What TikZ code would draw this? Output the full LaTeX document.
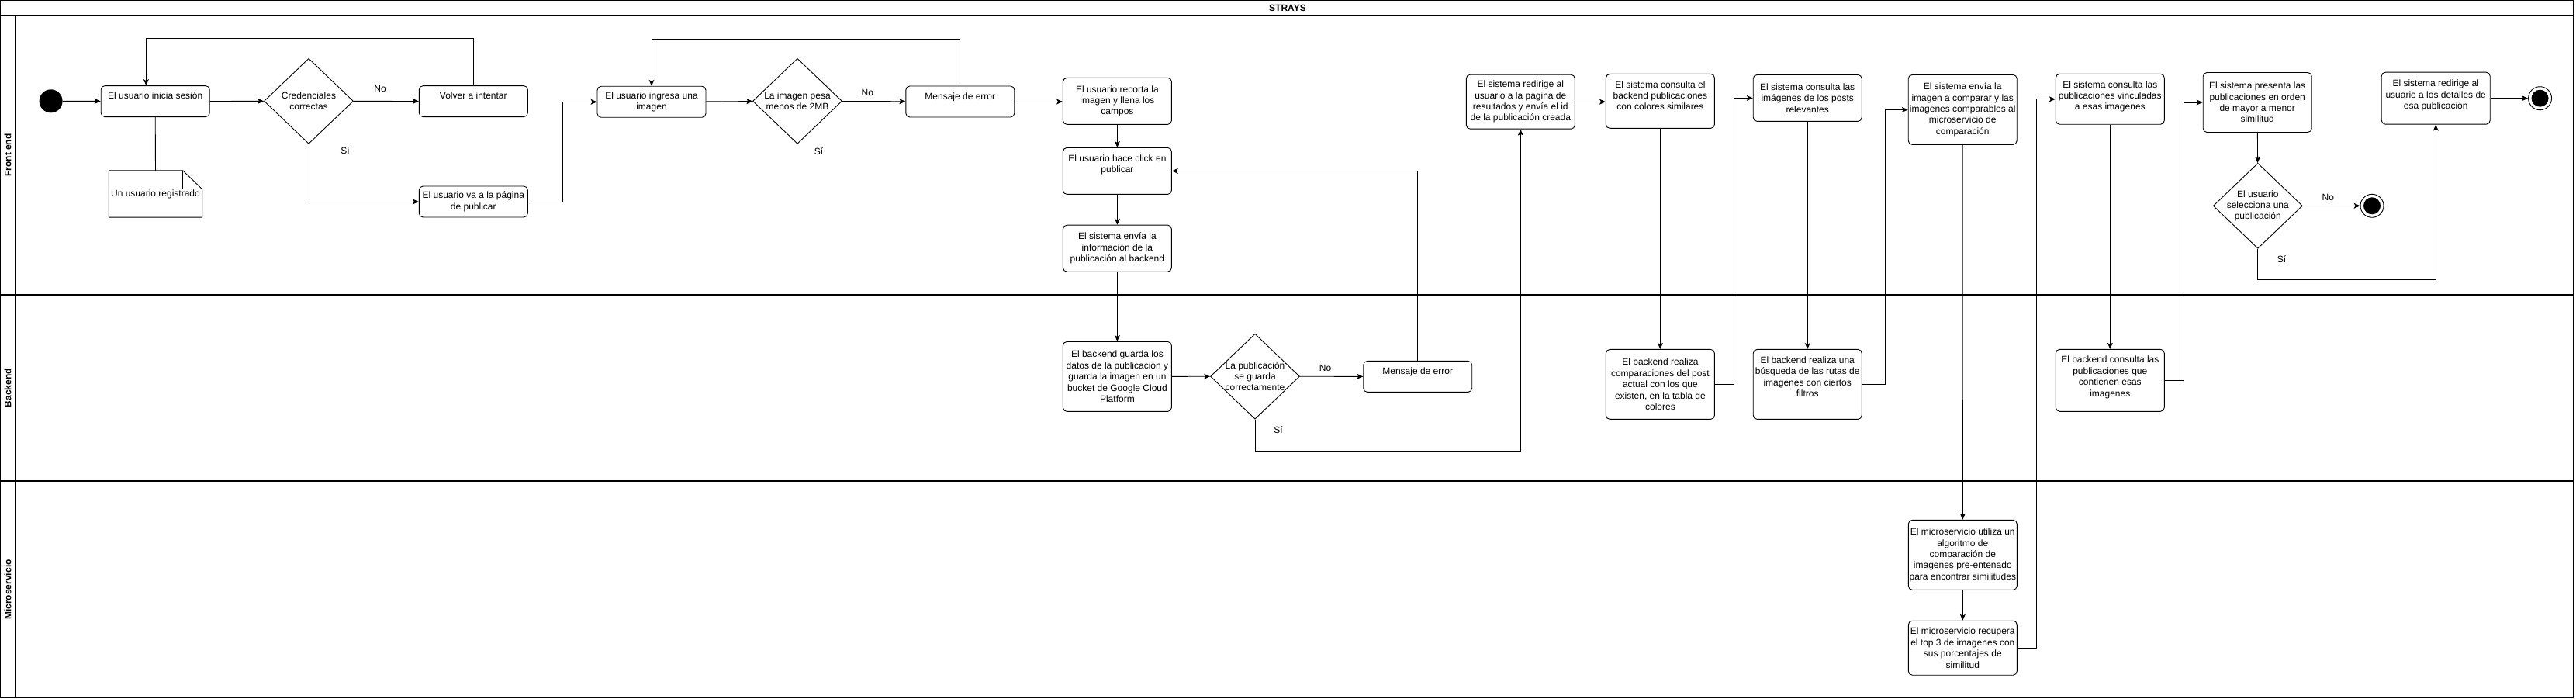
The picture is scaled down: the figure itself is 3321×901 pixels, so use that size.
\documentclass[tikz,border=0pt]{standalone}
\usepackage{fontspec}
\setmainfont{Liberation Sans}
\usetikzlibrary{arrows.meta,shapes.geometric}
\newcommand\extraline[1][0pt]{\\[#1]\mbox{}}
\begin{document}
\begin{tikzpicture}[x=1pt,y=-1pt,
  txt/.style={font=\fontsize{12}{14.4}\selectfont, align=center, inner sep=0pt, text=black},
  act/.style={txt, draw, rounded corners=5pt, line width=0.9pt, minimum width=140pt, fill=white},
  dec/.style={draw, diamond, line width=0.9pt, minimum width=115pt, minimum height=110pt, inner sep=0pt, fill=white},
  arr/.style={line width=0.9pt, -{Stealth[length=8pt,width=7pt,inset=2pt]}},
  ln/.style={line width=0.9pt},
  lane/.style={line width=1.3pt},
  lanelabel/.style={font=\bfseries\fontsize{12}{14}\selectfont, rotate=90, inner sep=0pt},
  startst/.style={circle, fill=black, minimum size=30pt, inner sep=0pt},
  endring/.style={circle, draw, fill=white, line width=0.9pt, minimum size=30pt, inner sep=0pt},
  enddot/.style={circle, fill=black, minimum size=22pt, inner sep=0pt}
]
\useasboundingbox (0,0) rectangle (3321,901);
% swimlanes
\draw[lane] (0.7,0.7) rectangle (3318,899.3);
\draw[lane] (0,20) -- (3318,20);
\draw[lane] (20,20) -- (20,899.3);
\draw[lane] (0,380) -- (3318,380);
\draw[lane] (0,620) -- (3318,620);
\node[font=\bfseries\fontsize{12}{14}\selectfont, inner sep=0pt] (title) at (1660,10) {STRAYS};
\node[lanelabel] (lfront) at (10,200) {Front end};
\node[lanelabel] (lback) at (10,500) {Backend};
\node[lanelabel] (lmicro) at (10,760) {Microservicio};

% Front end nodes
\node[startst] (start) at (65.6,130.3) {};
\node[act, minimum height=40pt] (a1) at (200.2,130.6) {El usuario inicia sesión\extraline};
\node[txt, minimum width=120pt, minimum height=60pt] (note) at (200.5,250) {Un usuario registrado};
\draw[ln] (note.north west) -- ([xshift=-25pt]note.north east) -- ([yshift=-24pt]note.north east) -- (note.south east) -- (note.south west) -- cycle;
\draw[ln] ([xshift=-25pt]note.north east) -- ([xshift=-25pt,yshift=-24pt]note.north east) -- ([yshift=-24pt]note.north east);
\node[dec] (d1) at (398,130.3) {};
\node[txt] (d1t) at (d1) {Credenciales\\correctas};
\node[act, minimum height=40pt] (retry) at (610.3,130.6) {Volver a intentar\extraline};
\node[act, minimum height=40pt] (pub) at (610.3,260) {El usuario va a la página\\de publicar};
\node[act, minimum height=40pt] (ing) at (840,131.3) {El usuario ingresa una\\imagen};
\node[dec] (d2) at (1028,130.3) {};
\node[txt] (d2t) at (d2) {La imagen pesa\\menos de 2MB};
\node[act, minimum height=40pt] (err1) at (1237.8,131) {Mensaje de error\extraline};
\node[act, minimum height=60pt] (crop) at (1440.4,130.4) {El usuario recorta la\\imagen y llena los\\campos};
\node[act, minimum height=60pt] (click) at (1440.4,220.4) {El usuario hace click en\\publicar\extraline[4pt]};
\node[act, minimum height=60pt] (send) at (1440.4,320.2) {El sistema envía la\\información de la\\publicación al backend};
\node[act, minimum height=70pt] (redir) at (1960.3,131.2) {El sistema redirige al\\usuario a la página de\\resultados y envía el id\\de la publicación creada};
\node[act, minimum height=70pt] (colq) at (2140.4,130.4) {El sistema consulta el\\backend publicaciones\\con colores similares\extraline};
\node[act, minimum height=60pt] (imgq) at (2330.2,126.4) {El sistema consulta las\\imágenes de los posts\\relevantes};
\node[act, minimum height=90pt] (sendms) at (2530.2,141.4) {El sistema envía la\\imagen a comparar y las\\imagenes comparables al\\microservicio de\\comparación};
\node[act, minimum height=65pt] (pubq) at (2720.3,127.8) {El sistema consulta las\\publicaciones vinculadas\\a esas imagenes\extraline[-5pt]};
\node[act, minimum height=77pt] (pres) at (2910.2,132) {El sistema presenta las\\publicaciones en orden\\de mayor a menor\\similitud};
\node[dec] (d4) at (2910.8,265.3) {};
\node[txt] (d4t) at (d4) {El usuario\\selecciona una\\publicación};
\node[act, minimum height=67pt] (det) at (3140.2,126.7) {El sistema redirige al\\usuario a los detalles de\\esa publicación\extraline[-5pt]};
\node[endring] (end1) at (3274.5,126.7) {};
\node[enddot] (end1c) at (end1) {};
\node[endring] (end2) at (3058,265.3) {};
\node[enddot] (end2c) at (end2) {};

% Backend nodes
\node[act, minimum height=90pt] (save) at (1440.4,485.4) {El backend guarda los\\datos de la publicación y\\guarda la imagen en un\\bucket de Google Cloud\\Platform};
\node[dec] (d3) at (1618,485.2) {};
\node[txt] (d3t) at (d3) {La publicación\\se guarda\\correctamente};
\node[act, minimum height=40pt] (err2) at (1827.7,485.4) {Mensaje de error\extraline};
\node[act, minimum height=90pt] (colcmp) at (2140.4,495.4) {El backend realiza\\comparaciones del post\\actual con los que\\existen, en la tabla de\\colores};
\node[act, minimum height=90pt] (route) at (2330.2,495.4) {El backend realiza una\\búsqueda de las rutas de\\imagenes con ciertos\\filtros\extraline[5pt]};
\node[act, minimum height=80pt] (pubb) at (2720.3,490.3) {El backend consulta las\\publicaciones que\\contienen esas\\imagenes\extraline[-4pt]};

% Microservicio nodes
\node[act, minimum height=90pt] (algo) at (2530.3,715.3) {El microservicio utiliza un\\algoritmo de\\comparación de\\imagenes pre-entenado\\para encontrar similitudes};
\node[act, minimum height=70pt] (top3) at (2530.3,835.2) {El microservicio recupera\\el top 3 de imagenes con\\sus porcentajes de\\similitud};

% branch labels
\node[txt] (no1) at (490,114.3) {No};
\node[txt] (si1) at (445,194.3) {Sí};
\node[txt] (no2) at (1118.4,119.3) {No};
\node[txt] (si2) at (1055.6,195) {Sí};
\node[txt] (no3) at (1708.5,474.6) {No};
\node[txt] (si3) at (1648,554.6) {Sí};
\node[txt] (no4) at (3001.3,254.3) {No};
\node[txt] (si4) at (2941.4,334.3) {Sí};

% connectors
\draw[arr] (start) -- (a1);
\draw[ln] (a1.south) -- (note.north);
\draw[arr] (a1) -- (d1);
\draw[arr] (d1) -- (retry);
\draw[arr] (retry.north) -- ++(0,-60.7) -| ([xshift=-11.8pt]a1.north);
\draw[arr] (d1.south) |- (pub.west);
\draw[arr] (pub.east) -- ++(45,0) |- (ing.west);
\draw[arr] (ing) -- (d2);
\draw[arr] (d2) -- (err1);
\draw[arr] (err1.north) -- ++(0,-60) -| (ing.north);
\draw[arr] (err1.east) -- (crop.west |- err1.east);
\draw[arr] (crop) -- (click);
\draw[arr] (click) -- (send);
\draw[arr] (send) -- (save);
\draw[arr] (save) -- (d3);
\draw[arr] (d3) -- (err2);
\draw[arr] (err2.north) |- (click.east);
\draw[arr] (d3.south) -- ++(0,40.8) -| (redir.south);
\draw[arr] (redir.east) -- (colq.west |- redir.east);
\draw[arr] (colq) -- (colcmp);
\draw[arr] (colcmp.east) -- ++(25,0) |- (imgq.west);
\draw[arr] (imgq) -- (route);
\draw[arr] (route.east) -- ++(29.7,0) |- (sendms.west);
\draw[arr] (sendms) -- (algo);
\draw[arr] (algo) -- (top3);
\draw[arr] (top3.east) -- ++(25,0) |- (pubq.west);
\draw[arr] (pubq) -- (pubb);
\draw[arr] (pubb.east) -- ++(25,0) |- (pres.west);
\draw[arr] (pres) -- (d4);
\draw[arr] (d4) -- (end2);
\draw[arr] (d4.south) -- ++(0,40) -| (det.south);
\draw[arr] (det) -- (end1);
\end{tikzpicture}
\end{document}
